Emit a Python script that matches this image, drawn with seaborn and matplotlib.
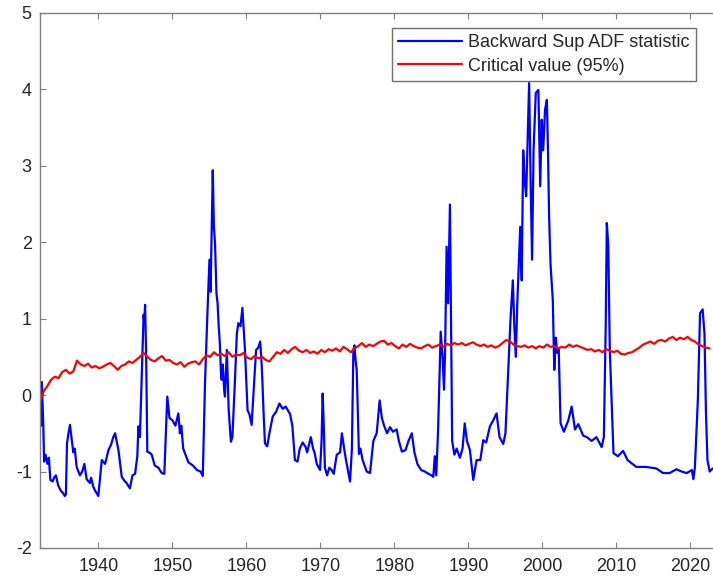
import numpy as np
import pandas as pd
import matplotlib
matplotlib.use("Agg")
import matplotlib.pyplot as plt
import seaborn as sns

# ---- data ----
bsadf_years = [
    1932.1, 1932.25, 1932.35, 1932.45, 1932.55, 1932.65, 1932.85, 1933.1, 1933.3, 1933.5,
    1933.8, 1934.0, 1934.25, 1934.55, 1934.9, 1935.2, 1935.45, 1935.6, 1935.75, 1935.95,
    1936.15, 1936.35, 1936.6, 1936.8, 1937.05, 1937.5, 1937.8, 1938.1, 1938.4, 1938.85,
    1939.0, 1939.3, 1939.55, 1939.98, 1940.2, 1940.45, 1940.9, 1941.35, 1941.7, 1942.0,
    1942.25, 1942.45, 1942.7, 1943.15, 1943.5, 1943.8, 1944.25, 1944.6, 1944.95, 1945.25,
    1945.4, 1945.6, 1945.9, 1946.1, 1946.2, 1946.3, 1946.45, 1946.6, 1947.0, 1947.2,
    1947.6, 1948.1, 1948.55, 1948.9, 1949.3, 1949.6, 1950.0, 1950.4, 1950.8, 1951.0,
    1951.2, 1951.45, 1952.15, 1952.75, 1953.3, 1953.8, 1954.1, 1954.4, 1954.7, 1954.85,
    1955.0, 1955.15, 1955.45, 1955.6, 1955.75, 1955.95, 1956.1, 1956.25, 1956.4, 1956.55,
    1956.65, 1956.8, 1957.0, 1957.1, 1957.35, 1957.6, 1957.9, 1958.1, 1958.45, 1958.7,
    1958.9, 1959.2, 1959.45, 1959.8, 1960.15, 1960.4, 1960.7, 1961.0, 1961.3, 1961.6,
    1961.85, 1962.0, 1962.15, 1962.3, 1962.5, 1962.8, 1963.1, 1963.55, 1964.0, 1964.45,
    1964.9, 1965.3, 1965.9, 1966.2, 1966.55, 1966.9, 1967.2, 1967.6, 1968.0, 1968.2,
    1968.7, 1969.0, 1969.2, 1969.5, 1969.95, 1970.15, 1970.3, 1970.45, 1970.6, 1970.9,
    1971.2, 1971.5, 1971.8, 1972.2, 1972.65, 1972.9, 1973.2, 1973.45, 1973.7, 1974.0,
    1974.25, 1974.45, 1974.6, 1974.75, 1974.9, 1975.2, 1975.4, 1975.7, 1976.25, 1976.7,
    1977.15, 1977.6, 1978.0, 1978.3, 1978.6, 1979.0, 1979.4, 1979.8, 1980.3, 1980.6,
    1981.0, 1981.5, 1981.9, 1982.35, 1982.7, 1983.1, 1983.6, 1984.1, 1984.6, 1985.0,
    1985.25, 1985.45, 1985.65, 1985.9, 1986.25, 1986.5, 1986.7, 1986.85, 1987.05, 1987.25,
    1987.5, 1987.65, 1987.8, 1988.1, 1988.4, 1988.85, 1989.2, 1989.5, 1989.8, 1990.2,
    1990.65, 1991.1, 1991.6, 1992.0, 1992.4, 1992.9, 1993.35, 1993.8, 1994.2, 1994.7,
    1995.0, 1995.4, 1995.7, 1996.0, 1996.2, 1996.4, 1996.6, 1997.0, 1997.2, 1997.4,
    1997.6, 1997.8, 1998.2, 1998.4, 1998.6, 1998.8, 1999.1, 1999.45, 1999.7, 1999.9,
    2000.1, 2000.35, 2000.6, 2000.75, 2000.9, 2001.1, 2001.4, 2001.6, 2001.8, 2002.0,
    2002.2, 2002.45, 2002.9, 2003.5, 2003.95, 2004.4, 2004.85, 2005.5, 2006.0, 2006.65,
    2007.3, 2008.0, 2008.3, 2008.55, 2008.7, 2008.9, 2009.1, 2009.6, 2010.2, 2010.9,
    2011.5, 2012.7, 2014.0, 2015.4, 2016.3, 2017.2, 2018.1, 2018.8, 2019.5, 2020.2,
    2020.4, 2020.6, 2021.0, 2021.3, 2021.65, 2021.9, 2022.1, 2022.3, 2022.6, 2023.0,
]
bsadf_values = [
    -0.28, -0.40, 0.17, -0.10, -0.41, -0.87, -0.78, -0.90, -0.82, -1.11,
    -1.13, -1.08, -1.05, -1.18, -1.25, -1.28, -1.32, -1.30, -0.63, -0.50,
    -0.39, -0.55, -0.75, -0.70, -0.94, -1.05, -1.00, -0.90, -1.10, -1.15,
    -1.08, -1.20, -1.25, -1.32, -1.10, -0.85, -0.90, -0.72, -0.65, -0.55,
    -0.50, -0.60, -0.72, -1.07, -1.12, -1.15, -1.22, -1.05, -1.03, -0.80,
    -0.41, -0.55, 0.42, 1.05, 0.95, 1.18, 0.50, -0.74, -0.76, -0.78,
    -0.92, -0.95, -1.02, -1.03, -0.02, -0.30, -0.33, -0.40, -0.24, -0.50,
    -0.40, -0.70, -0.88, -0.92, -0.98, -1.00, -1.06, 0.16, 1.00, 1.37,
    1.77, 1.35, 2.94, 2.20, 1.99, 1.33, 1.20, 0.90, 0.68, 0.30,
    0.20, 0.40, 0.05, -0.02, 0.59, -0.20, -0.61, -0.55, 0.20, 0.80,
    0.94, 0.90, 1.14, 0.59, -0.20, -0.25, -0.39, 0.10, 0.59, 0.62,
    0.70, 0.50, 0.20, -0.20, -0.63, -0.67, -0.50, -0.28, -0.22, -0.11,
    -0.18, -0.15, -0.25, -0.40, -0.85, -0.87, -0.70, -0.62, -0.68, -0.75,
    -0.55, -0.70, -0.75, -0.90, -0.98, -0.60, 0.02, -0.40, -0.95, -1.05,
    -0.95, -0.98, -1.03, -0.78, -0.75, -0.50, -0.70, -0.85, -0.98, -1.13,
    -0.70, 0.59, 0.65, 0.45, 0.33, -0.77, -0.70, -0.85, -1.00, -1.02,
    -0.60, -0.50, -0.07, -0.30, -0.40, -0.50, -0.42, -0.48, -0.45, -0.60,
    -0.74, -0.72, -0.60, -0.50, -0.75, -0.90, -0.98, -1.00, -1.03, -1.05,
    -1.07, -0.80, -1.05, -0.46, 0.83, 0.50, 0.07, 0.60, 1.94, 1.20,
    2.49, 1.00, -0.60, -0.78, -0.70, -0.82, -0.70, -0.37, -0.60, -0.72,
    -1.11, -0.85, -0.85, -0.59, -0.62, -0.41, -0.33, -0.24, -0.55, -0.64,
    -0.50, 0.37, 1.02, 1.50, 0.90, 0.50, 1.20, 2.20, 1.50, 3.20,
    2.80, 2.60, 4.08, 2.80, 1.77, 3.20, 3.95, 3.99, 2.73, 3.60,
    3.20, 3.73, 3.86, 3.20, 2.33, 1.70, 1.24, 0.33, 0.75, 0.55,
    0.60, -0.37, -0.48, -0.33, -0.15, -0.45, -0.38, -0.53, -0.55, -0.60,
    -0.55, -0.68, -0.55, 0.89, 2.25, 1.95, 0.60, -0.76, -0.80, -0.73,
    -0.85, -0.94, -0.94, -0.96, -1.02, -1.02, -0.97, -1.00, -1.02, -0.98,
    -1.10, -0.95, -0.07, 1.07, 1.12, 0.80, -0.24, -0.85, -1.00, -0.96,
]

# critical value, half-year steps starting 1932.1
cv_start = 1932.1
cv_step = 0.5
cv_values = [
    -0.09, 0.05, 0.12, 0.20, 0.24, 0.22, 0.30, 0.33, 0.28, 0.31,
    0.45, 0.40, 0.38, 0.41, 0.36, 0.38, 0.35, 0.37, 0.40, 0.42,
    0.38, 0.33, 0.38, 0.40, 0.44, 0.42, 0.46, 0.50, 0.55, 0.50,
    0.46, 0.44, 0.48, 0.51, 0.45, 0.46, 0.42, 0.40, 0.43, 0.37,
    0.41, 0.43, 0.44, 0.40, 0.47, 0.52, 0.50, 0.56, 0.52, 0.54,
    0.51, 0.56, 0.50, 0.53, 0.52, 0.55, 0.49, 0.47, 0.51, 0.48,
    0.50, 0.46, 0.44, 0.50, 0.56, 0.54, 0.59, 0.55, 0.60, 0.63,
    0.58, 0.56, 0.59, 0.55, 0.57, 0.54, 0.59, 0.56, 0.60, 0.58,
    0.61, 0.57, 0.63, 0.60, 0.56, 0.61, 0.64, 0.68, 0.63, 0.66,
    0.64, 0.67, 0.70, 0.71, 0.66, 0.68, 0.64, 0.61, 0.66, 0.63,
    0.67, 0.64, 0.62, 0.61, 0.64, 0.66, 0.62, 0.64, 0.66, 0.63,
    0.67, 0.65, 0.68, 0.66, 0.68, 0.65, 0.67, 0.69, 0.66, 0.64,
    0.66, 0.63, 0.65, 0.62, 0.64, 0.68, 0.72, 0.70, 0.66, 0.64,
    0.63, 0.65, 0.62, 0.64, 0.61, 0.64, 0.62, 0.66, 0.63, 0.64,
    0.61, 0.63, 0.62, 0.66, 0.63, 0.65, 0.63, 0.61, 0.59, 0.60,
    0.57, 0.59, 0.56, 0.60, 0.58, 0.56, 0.58, 0.54, 0.53, 0.55,
    0.56, 0.59, 0.62, 0.66, 0.68, 0.70, 0.67, 0.71, 0.72, 0.70,
    0.74, 0.76, 0.72, 0.75, 0.73, 0.76, 0.72, 0.70, 0.66, 0.64,
    0.62, 0.61,
]
cv_years = [cv_start + cv_step * i for i in range(len(cv_values))]

x_ticks = [1940, 1950, 1960, 1970, 1980, 1990, 2000, 2010, 2020]
y_ticks = [-2, -1, 0, 1, 2, 3, 4, 5]
series_labels = ["Backward Sup ADF statistic", "Critical value (95%)"]

df_b = pd.DataFrame({"year": bsadf_years, "value": bsadf_values})
df_c = pd.DataFrame({"year": cv_years, "value": cv_values})

# ---- style ----
sns.set_style("white")
plt.rcParams["font.family"] = ["Liberation Sans", "DejaVu Sans"]
plt.rcParams["axes.unicode_minus"] = False

W, H = 713, 583
fig = plt.figure(figsize=(W / 100, H / 100), dpi=100)
ax = fig.add_axes([40 / W, (H - 548) / H, 1 - 40 / W, (548 - 12.7) / H])

sns.lineplot(data=df_b, x="year", y="value", ax=ax, color=(0, 0, 1),
             linewidth=1.6, label=series_labels[0], estimator=None, sort=False)
sns.lineplot(data=df_c, x="year", y="value", ax=ax, color=(1, 0, 0),
             linewidth=1.6, label=series_labels[1], estimator=None, sort=False)

ax.set_xlim(1932.1, 2023.05)
ax.set_ylim(-2, 5)
ax.set_xticks(x_ticks)
ax.set_yticks(y_ticks)
ax.set_xticklabels([str(t) for t in x_ticks])
ax.set_yticklabels([str(t) for t in y_ticks])
ax.set_xlabel("")
ax.set_ylabel("")

spine_col = "#808080"
for s in ["left", "bottom", "top"]:
    ax.spines[s].set_visible(True)
    ax.spines[s].set_color(spine_col)
    ax.spines[s].set_linewidth(1.0)
ax.spines["right"].set_visible(False)

ax.tick_params(axis="both", direction="in", length=4, width=0.8,
               color=spine_col, labelcolor="#262626", labelsize=13)
ax.tick_params(axis="x", top=True, bottom=True, pad=7)
ax.tick_params(axis="y", left=True, right=False, pad=6)

leg = ax.legend(loc="upper left", bbox_to_anchor=(392 / W, 1 - 28 / H),
                bbox_transform=fig.transFigure, borderaxespad=0,
                frameon=True, fancybox=False, framealpha=1,
                edgecolor="#6e6e6e", fontsize=13, handlelength=3.5,
                handletextpad=0.35, borderpad=0.35, labelspacing=0.35)
leg.get_frame().set_linewidth(1.0)
for t in leg.get_texts():
    t.set_color("#262626")

fig.savefig("out.png", dpi=100)
